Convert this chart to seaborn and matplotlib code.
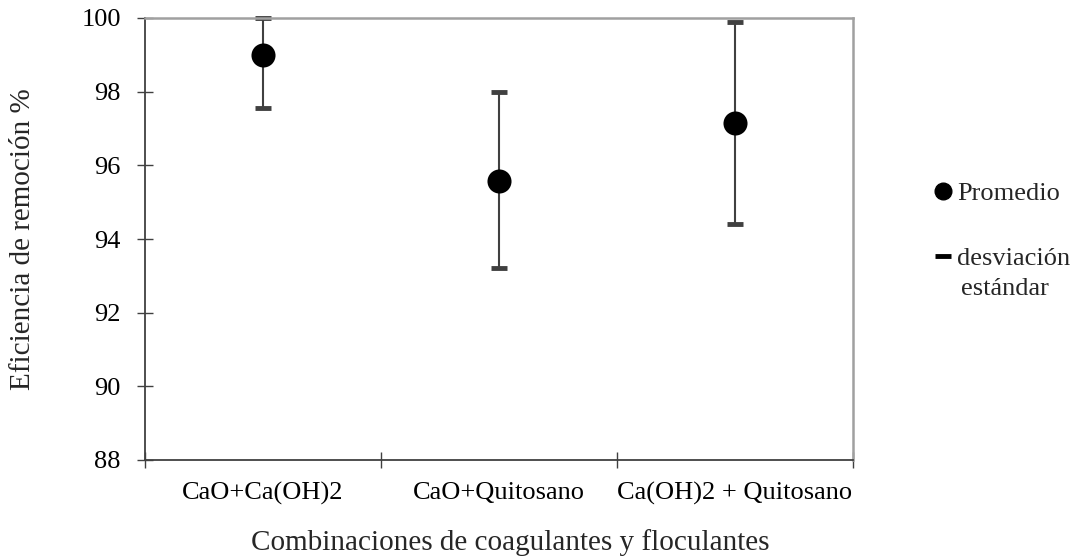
import matplotlib
matplotlib.use("Agg")
import matplotlib.pyplot as plt
from matplotlib.lines import Line2D
import seaborn as sns
import numpy as np
import pandas as pd

categories = ["CaO+Ca(OH)2", "CaO+Quitosano", "Ca(OH)2 + Quitosano"]
promedio = [99.0, 95.58, 97.15]
limite_inferior = [97.57, 93.22, 94.42]
limite_superior = [100.0, 97.98, 99.90]
y_ticks = [88, 90, 92, 94, 96, 98, 100]

sns.set_theme(style="white")
plt.rcParams['font.family'] = ['Liberation Serif', 'DejaVu Serif']

df = pd.DataFrame({"cat": categories, "prom": promedio,
                   "lo": limite_inferior, "hi": limite_superior})

W, H = 1075, 556
fig = plt.figure(figsize=(W/100, H/100), dpi=100)
ax = fig.add_axes([145/W, 1 - 460/H, (853-145)/W, (460-18)/H])

x = np.arange(len(categories))
means = df["prom"].to_numpy()
yerr = [means - df["lo"].to_numpy(), df["hi"].to_numpy() - means]
eb = ax.errorbar(x, means, yerr=yerr, fmt='none', ecolor='#404040',
                 elinewidth=1.5, capsize=5.5, capthick=3.5, zorder=2)
for cl in eb[1]:
    cl.set_color('black')
    cl.set_clip_on(False)

sns.scatterplot(data=df, x="cat", y="prom", ax=ax, color='black', s=300,
                marker='o', edgecolor='black', linewidth=0, zorder=3, legend=False)

ax.set_xlim(-0.5, 2.5)
ax.set_ylim(88, 100)
ax.set_yticks(y_ticks)
ax.set_yticklabels([str(v) for v in y_ticks], fontsize=19)
ax.set_xticks(x)
ax.set_xticklabels(categories, fontsize=19)
ax.set_xticks([-0.5, 0.5, 1.5, 2.5], minor=True)
ax.tick_params(axis='x', which='major', length=0, pad=16, labelcolor='black')
ax.tick_params(axis='x', which='minor', direction='inout', length=11, width=1, color='#404040', bottom=True)
ax.tick_params(axis='y', which='major', direction='inout', length=11, width=1, color='#404040',
               left=True, pad=12, labelcolor='black')

for side in ['left', 'bottom']:
    ax.spines[side].set_color('#404040')
    ax.spines[side].set_linewidth(1.3)
for side in ['top', 'right']:
    ax.spines[side].set_color('#A0A0A0')
    ax.spines[side].set_linewidth(1.8)

ax.set_xlabel("Combinaciones de coagulantes y floculantes", fontsize=21)
ax.xaxis.set_label_coords((510-145)/708, (460-543)/442)
ax.xaxis.label.set_verticalalignment('center')
ax.set_ylabel("Eficiencia de remoción %", fontsize=21)
ax.yaxis.set_label_coords((23-145)/708, 0.5)
ax.yaxis.label.set_verticalalignment('center')

handles = [
    Line2D([], [], linestyle='none', marker='o', color='black', markersize=12),
    Line2D([], [], linestyle='none', marker='_', color='black', markersize=11, markeredgewidth=3.5),
]
leg = fig.legend(handles, ["Promedio", "desviación"], loc='upper left',
                 bbox_to_anchor=(933/W, 1 - 182/H), frameon=False, fontsize=19,
                 handlelength=0.75, handletextpad=0.15, labelspacing=1.57,
                 borderpad=0, borderaxespad=0)
fig.text(961/W, 1 - 289/H, "estándar", fontsize=19, ha='left', va='center')

fig.savefig("out.png", dpi=100)
